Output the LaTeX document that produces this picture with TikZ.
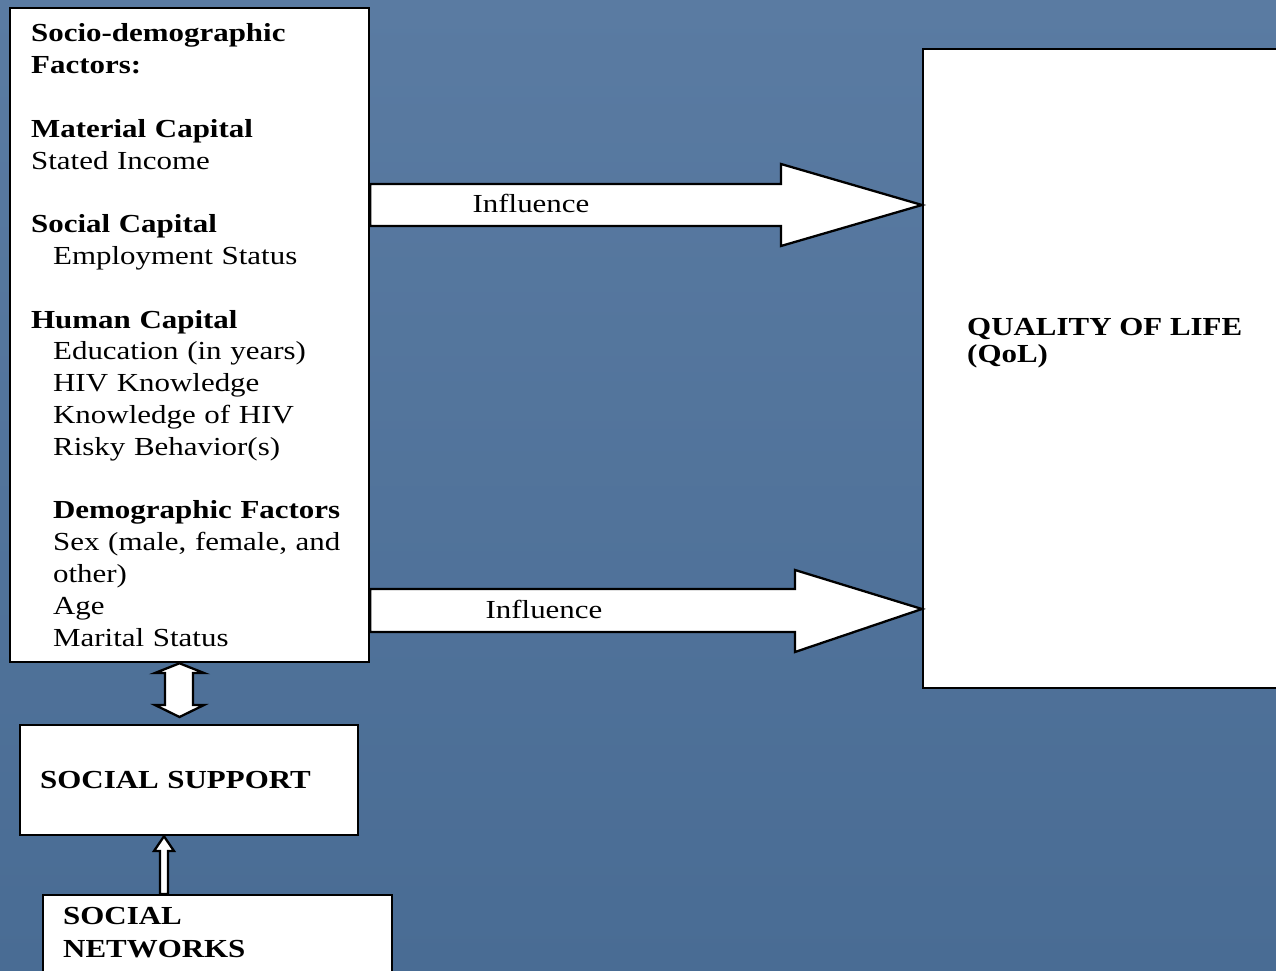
\documentclass[tikz,border=0pt]{standalone}
\usepackage{fontspec}
\setmainfont{Liberation Serif}[FakeStretch=1.19]
\usetikzlibrary{positioning}
\definecolor{slidetop}{RGB}{90,123,162}
\definecolor{slidebottom}{RGB}{73,108,148}
\newcommand{\ind}{\hspace*{22pt}}

\begin{document}
\begin{tikzpicture}[x=1pt,y=-1pt]
\tikzstyle{box}=[draw,fill=white,line width=2.3pt,rectangle];
\tikzstyle{blockarrow}=[draw,fill=white,line width=2.3pt,line join=miter];
\tikzstyle{txt}=[font=\fontsize{26}{31.8}\selectfont];
\useasboundingbox (0,0) rectangle (1276,971);
\shade [top color=slidetop,bottom color=slidebottom] (0,0) rectangle (1276,971);
% factor list
\node (factors) [box,txt,anchor=north west,minimum width=359pt,minimum height=654pt,
  text width=317pt,inner xsep=21pt,align=left] at (9,7) {%
\textbf{Socio-demographic}\\
\textbf{Factors:}\\[31.8pt]
\textbf{Material Capital}\\
Stated Income\\[31.8pt]
\textbf{Social Capital}\\
\ind Employment Status\\[31.8pt]
\textbf{Human Capital}\\
\ind Education (in years)\\
\ind HIV Knowledge\\
\ind Knowledge of HIV\\
\ind Risky Behavior(s)\\[31.8pt]
\ind\textbf{Demographic Factors}\\
\ind Sex (male, female, and\\
\ind other)\\
\ind Age\\
\ind Marital Status};
% outcome
\node (qol) [box,anchor=north west,minimum width=400pt,minimum height=639pt] at (922,48) {};
\node (qollabel) [anchor=north west,align=left,inner sep=0pt,
  font=\fontsize{26}{27.5}\selectfont\bfseries] at (967,318) {QUALITY OF LIFE\\(QoL)};
% support and networks
\node (support) [box,anchor=north west,minimum width=338pt,minimum height=110pt,
  text width=298pt,inner xsep=20pt,align=left,font=\fontsize{26}{31.8}\selectfont\bfseries]
  at (19,724) {SOCIAL SUPPORT};
\node (networks) [box,anchor=north west,minimum width=349pt,minimum height=120pt] at (42,894) {};
\node (networkslabel) [anchor=north west,align=left,inner sep=0pt,
  font=\fontsize{26}{33}\selectfont\bfseries] at (63,907) {SOCIAL\\NETWORKS};
% influence arrows
\draw [blockarrow] (factors.east |- 0,184) -- (781,184) -- (781,164) -- (qol.west |- 0,205)
  -- (781,246) -- (781,226) -- (factors.east |- 0,226) -- cycle;
\node (influence1) [txt] at (531,203) {Influence};
\draw [blockarrow] (factors.east |- 0,589) -- (795,589) -- (795,570) -- (qol.west |- 0,609)
  -- (795,652) -- (795,632) -- (factors.east |- 0,632) -- cycle;
\node (influence2) [txt] at (544,609) {Influence};
% two-way link and networks arrow
\draw [blockarrow] (179.5,0 |- factors.south) -- (204,673) -- (193,673) -- (193,705) -- (204,705)
  -- (179.5,717) -- (155,705) -- (165,705) -- (165,673) -- (155,673) -- cycle;
\draw [blockarrow] (164,0 |- support.south) -- (174,851) -- (168,851) -- (168,0 |- networks.north)
  -- (160,0 |- networks.north) -- (160,851) -- (154,851) -- cycle;
\end{tikzpicture}
\end{document}
